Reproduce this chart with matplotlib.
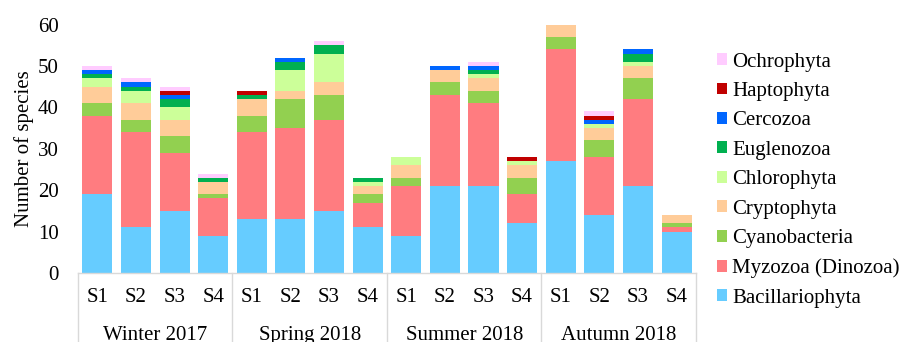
import numpy as np
import matplotlib
matplotlib.use('Agg')
import matplotlib.pyplot as plt
import matplotlib.transforms as mtransforms

seasons = ['Winter 2017', 'Spring 2018', 'Summer 2018', 'Autumn 2018']
sites = ['S1', 'S2', 'S3', 'S4']

# species counts per bar, order: winter S1-S4, spring S1-S4, summer S1-S4, autumn S1-S4
bacillariophyta = [19, 11, 15, 9, 13, 13, 15, 11, 9, 21, 21, 12, 27, 14, 21, 10]
myzozoa = [19, 23, 14, 9, 21, 22, 22, 6, 12, 22, 20, 7, 27, 14, 21, 1]
cyanobacteria = [3, 3, 4, 1, 4, 7, 6, 2, 2, 3, 3, 4, 3, 4, 5, 1]
cryptophyta = [4, 4, 4, 3, 4, 2, 3, 2, 3, 3, 3, 3, 3, 3, 3, 2]
chlorophyta = [2, 3, 3, 0, 0, 5, 7, 1, 2, 0, 1, 1, 0, 1, 1, 0]
euglenozoa = [1, 1, 2, 1, 1, 2, 2, 1, 0, 0, 1, 0, 0, 0, 2, 0]
cercozoa = [1, 1, 1, 0, 0, 1, 0, 0, 0, 1, 1, 0, 0, 1, 1, 0]
haptophyta = [0, 0, 1, 0, 1, 0, 0, 0, 0, 0, 0, 1, 0, 1, 0, 0]
ochrophyta = [1, 1, 1, 1, 0, 0, 1, 0, 0, 0, 1, 0, 0, 1, 0, 0]

groups = [
    ('Bacillariophyta', bacillariophyta, '#66CCFF'),
    ('Myzozoa (Dinozoa)', myzozoa, '#FF7C80'),
    ('Cyanobacteria', cyanobacteria, '#92D050'),
    ('Cryptophyta', cryptophyta, '#FFCC99'),
    ('Chlorophyta', chlorophyta, '#CCFF99'),
    ('Euglenozoa', euglenozoa, '#00B050'),
    ('Cercozoa', cercozoa, '#0066FF'),
    ('Haptophyta', haptophyta, '#C00000'),
    ('Ochrophyta', ochrophyta, '#FFCCFF'),
]

plt.rcParams['font.family'] = ['Liberation Serif', 'DejaVu Serif']
fs = 15

fig = plt.figure(figsize=(9.02, 3.42), dpi=100)
ax = fig.add_axes([0.0865, 0.2018, 0.685, 0.7265])

x = np.arange(len(bacillariophyta))
bottom = np.zeros(len(x))
for name, vals, col in groups:
    vals = np.array(vals, dtype=float)
    ax.bar(x, vals, width=0.78, bottom=bottom, color=col, label=name)
    bottom += vals

ax.set_xlim(-0.5, len(x) - 0.5)
ax.set_ylim(0, 60)
ax.set_yticks(range(0, 61, 10))
ax.tick_params(axis='y', length=0, pad=14, labelsize=fs)
ax.set_xticks([])
for s in ax.spines.values():
    s.set_visible(False)
ax.set_ylabel('Number of species', fontsize=fs, labelpad=3)

# two-level category axis drawn by hand
trans = mtransforms.blended_transform_factory(ax.transData, ax.transAxes)
line_kw = dict(color='#D9D9D9', lw=1, transform=trans, clip_on=False)
ax.plot([-0.5, len(x) - 0.5], [0, 0], **line_kw)
for k in range(len(seasons) + 1):
    xs = k * 4 - 0.5
    ax.plot([xs, xs], [0, -0.3], **line_kw)
for i in x:
    ax.text(i, -0.097, sites[i % 4], transform=trans, ha='center', va='center', fontsize=fs)
for k, s in enumerate(seasons):
    ax.text(k * 4 + 1.5, -0.252, s, transform=trans, ha='center', va='center', fontsize=fs)

handles, labels = ax.get_legend_handles_labels()
ax.legend(handles[::-1], labels[::-1], loc='center left', bbox_to_anchor=(1.02, 0.374),
          frameon=False, fontsize=fs, handlelength=0.5, handleheight=0.5,
          handletextpad=0.25, labelspacing=0.5, borderaxespad=0)

fig.savefig('out.png', dpi=100)
